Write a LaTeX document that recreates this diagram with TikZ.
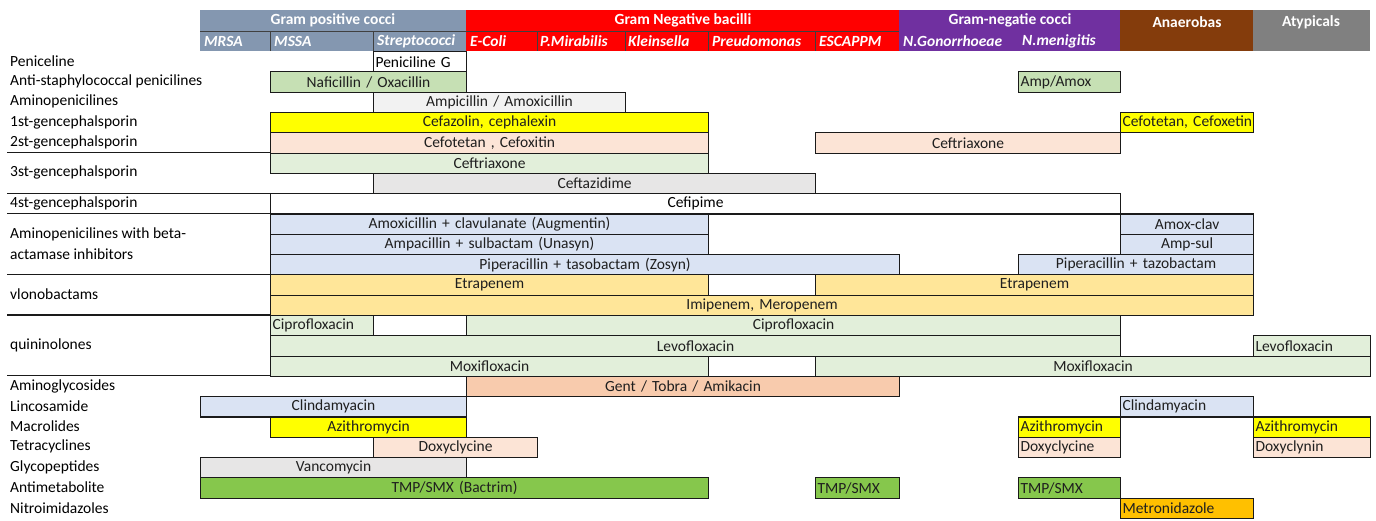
\documentclass[tikz,border=0pt]{standalone}
\usepackage{fontspec}
\setmainfont{Carlito}
\definecolor{gpos}{HTML}{8497B0}
\definecolor{gneg}{HTML}{FF0000}
\definecolor{gnc}{HTML}{7030A0}
\definecolor{anae}{HTML}{843C0C}
\definecolor{atyp}{HTML}{808080}
\definecolor{cgreen}{HTML}{C6E0B4}
\definecolor{cpale}{HTML}{E2EFDA}
\definecolor{clgray}{HTML}{F2F2F2}
\definecolor{cgray}{HTML}{E7E6E6}
\definecolor{cyel}{HTML}{FFFF00}
\definecolor{cpeach}{HTML}{FCE4D6}
\definecolor{cblue}{HTML}{DAE3F3}
\definecolor{ccarb}{HTML}{FFE699}
\definecolor{csalmon}{HTML}{F8CBAD}
\definecolor{cbact}{HTML}{86C74C}
\definecolor{corange}{HTML}{FFC000}
\definecolor{txt}{HTML}{1F1F1F}
\definecolor{bord}{HTML}{1A1A1A}
\newcommand\drug[7]{%
  \pgfmathsetmacro\dw{#3-#2-4}%
  \pgfmathsetmacro\dy{51+20.3*#4}%
  \node[cell, fill=#5, text width=\dw pt, align=#6] (#1) at (#2,\dy) {\mbox{#7}};}
\newcommand\lab[3]{%
  \pgfmathsetmacro\ly{51+20.3*#2}%
  \node[rowlab] (#1) at (8,\ly) {#3};}
\newcommand\grp[2]{%
  \pgfmathsetmacro\gy{51+20.3*#2}%
  \coordinate (#1a) at (7,\gy);
  \coordinate (#1b) at (270,\gy);
  \draw[grpline] (#1a) -- (#1b);}
\begin{document}
\begin{tikzpicture}[x=1pt,y=-1pt,
  every node/.style={font=\fontsize{15.5}{20.5}\selectfont},
  cell/.style={draw=bord, line width=1.1pt, rectangle, anchor=north west,
    minimum height=20.3pt, inner xsep=2pt, inner ysep=0pt, text=txt},
  rowlab/.style={anchor=west, inner sep=2pt, text=black, align=left},
  grpline/.style={draw=bord, line width=1.2pt},
  hdrtxt/.style={text=white, font=\fontsize{15.5}{18}\selectfont\bfseries, inner sep=0pt},
  subtxt/.style={text=white, font=\fontsize{15.5}{18}\selectfont\bfseries\itshape, anchor=west, inner sep=0pt},
  hsep/.style={draw=black!75, line width=1pt}]
\useasboundingbox (0,0) rectangle (1376,520);
% header blocks
\fill[gpos] (200,10) rectangle (466,51);
\fill[gneg] (466,10) rectangle (899,51);
\fill[gnc] (899,10) rectangle (1120,51);
\fill[anae] (1120,10) rectangle (1253,51);
\fill[atyp] (1253,10) rectangle (1370,51);
\coordinate (hs1) at (200,31); \coordinate (hs2) at (899,31);
\draw[hsep] (hs1) -- (hs2);
\foreach \x in {270,373,537,625,708,815} \draw[hsep] (\x,31) -- (\x,51);
\node[hdrtxt] (hgp) at (333,20.5) {Gram positive cocci};
\node[hdrtxt] (hgn) at (683,20.5) {Gram Negative bacilli};
\node[hdrtxt] (hgc) at (1010,20.5) {Gram-negatie cocci};
\node[hdrtxt] (han) at (1187,22) {Anaerobas};
\node[hdrtxt] (hat) at (1311,22) {Atypicals};
\node[subtxt] (s1) at (204,41) {MRSA};
\node[subtxt] (s2) at (274,41) {MSSA};
\node[subtxt] (s3) at (377,41) {Streptococci};
\node[subtxt] (s4) at (470,41) {E-Coli};
\node[subtxt] (s5) at (540,41) {P.Mirabilis};
\node[subtxt] (s6) at (628,41) {Kleinsella};
\node[subtxt] (s7) at (712,41) {Preudomonas};
\node[subtxt] (s8) at (819,41) {ESCAPPM};
\node[subtxt] (s9) at (903,41) {N.Gonorrhoeae};
\node[subtxt] (s10) at (1022,41) {N.menigitis};
% row labels
\lab{l0}{0.5}{Peniceline}
\lab{l1}{1.5}{Anti-staphylococcal penicilines}
\lab{l2}{2.5}{Aminopenicilines}
\lab{l3}{3.5}{1st-gencephalsporin}
\lab{l4}{4.5}{2st-gencephalsporin}
\lab{l5}{6}{3st-gencephalsporin}
\lab{l7}{7.5}{4st-gencephalsporin}
\lab{l8}{9.5}{Aminopenicilines with beta-\\actamase inhibitors}
\lab{l11}{12}{vlonobactams}
\lab{l13}{14.5}{quininolones}
\lab{l16}{16.5}{Aminoglycosides}
\lab{l17}{17.5}{Lincosamide}
\lab{l18}{18.5}{Macrolides}
\lab{l19}{19.5}{Tetracyclines}
\lab{l20}{20.5}{Glycopeptides}
\lab{l21}{21.5}{Antimetabolite}
\lab{l22}{22.5}{Nitroimidazoles}
% group lines
\grp{g5}{5}
\grp{g7}{7}
\grp{g8}{8}
\grp{g11}{11}
\grp{g13}{13}
\grp{g16}{16}
% bars
\drug{penG}{373}{466}{0}{white}{left}{\textcolor{black}{Peniciline G}}
\drug{naf}{270}{466}{1}{cgreen}{center}{Naficillin / Oxacillin}
\drug{ampamox}{1018}{1120}{1}{cgreen}{left}{Amp/Amox}
\drug{ampi}{373}{625}{2}{clgray}{center}{Ampicillin / Amoxicillin}
\drug{cefaz}{270}{708}{3}{cyel}{center}{Cefazolin, cephalexin}
\drug{cefotA}{1120}{1253}{3}{cyel}{left}{Cefotetan, Cefoxetin}
\drug{cefot}{270}{708}{4}{cpeach}{center}{Cefotetan , Cefoxitin}
\drug{ceftrA}{815}{1120}{4}{cpeach}{center}{Ceftriaxone}
\drug{ceftr}{270}{708}{5}{cpale}{center}{Ceftriaxone}
\drug{ceftaz}{373}{815}{6}{cgray}{center}{Ceftazidime}
\drug{cefip}{270}{1120}{7}{white}{center}{\textcolor{black}{Cefipime}}
\drug{augm}{270}{708}{8}{cblue}{center}{Amoxicillin + clavulanate (Augmentin)}
\drug{amoxclav}{1120}{1253}{8}{cblue}{center}{Amox-clav}
\drug{unas}{270}{708}{9}{cblue}{center}{Ampacillin + sulbactam (Unasyn)}
\drug{ampsul}{1120}{1253}{9}{cblue}{center}{Amp-sul}
\drug{zosyn}{270}{899}{10}{cblue}{center}{Piperacillin + tasobactam (Zosyn)}
\drug{piptaz}{1018}{1253}{10}{cblue}{center}{Piperacillin + tazobactam}
\drug{etra}{270}{708}{11}{ccarb}{center}{Etrapenem}
\drug{etraB}{815}{1253}{11}{ccarb}{center}{Etrapenem}
\drug{imi}{270}{1253}{12}{ccarb}{center}{Imipenem, Meropenem}
\drug{cipA}{270}{373}{13}{cpale}{left}{Ciprofloxacin}
\drug{cipgap}{373}{466}{13}{white}{left}{}
\drug{cipB}{466}{1120}{13}{cpale}{center}{Ciprofloxacin}
\drug{levA}{270}{1120}{14}{cpale}{center}{Levofloxacin}
\drug{levB}{1253}{1370}{14}{cpale}{left}{Levofloxacin}
\drug{moxA}{270}{708}{15}{cpale}{center}{Moxifloxacin}
\drug{moxB}{815}{1370}{15}{cpale}{center}{Moxifloxacin}
\drug{gent}{466}{899}{16}{csalmon}{center}{Gent / Tobra / Amikacin}
\drug{clinA}{200}{466}{17}{cblue}{center}{Clindamyacin}
\drug{clinB}{1120}{1253}{17}{cblue}{left}{Clindamyacin}
\drug{aziA}{270}{466}{18}{cyel}{center}{Azithromycin}
\drug{aziB}{1018}{1120}{18}{cyel}{left}{Azithromycin}
\drug{aziC}{1253}{1370}{18}{cyel}{left}{Azithromycin}
\drug{doxA}{373}{537}{19}{cpeach}{center}{Doxyclycine}
\drug{doxB}{1018}{1120}{19}{cpeach}{left}{Doxyclycine}
\drug{doxC}{1253}{1370}{19}{cpeach}{left}{Doxyclynin}
\drug{vanc}{200}{466}{20}{cgray}{center}{Vancomycin}
\drug{bactA}{200}{708}{21}{cbact}{center}{TMP/SMX (Bactrim)}
\drug{bactB}{815}{899}{21}{cbact}{left}{TMP/SMX}
\drug{bactC}{1018}{1120}{21}{cbact}{left}{TMP/SMX}
\drug{metro}{1120}{1253}{22}{corange}{left}{Metronidazole}
\end{tikzpicture}
\end{document}
